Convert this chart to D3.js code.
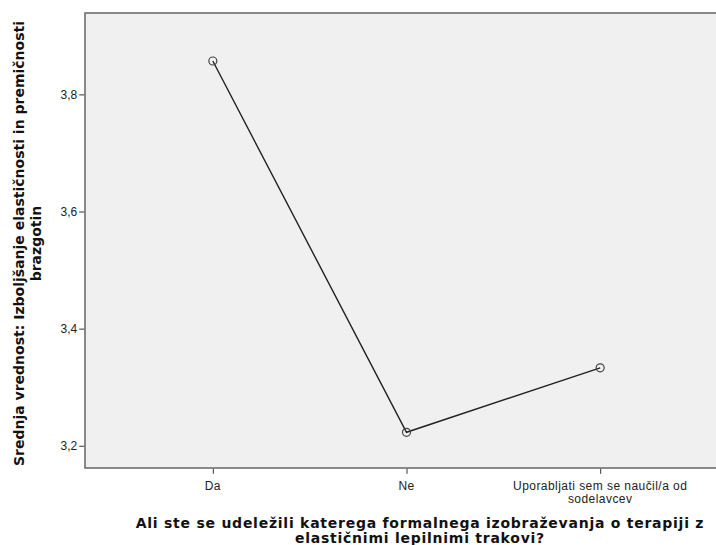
<!DOCTYPE html>
<html><head><meta charset="utf-8">
<script src="https://cdn.jsdelivr.net/npm/d3@7"></script>
<style>body{margin:0;background:#fff}svg{display:block}</style>
</head><body>
<script>
const categories = ["Da", "Ne", "Uporabljati sem se naučil/a od sodelavcev"];
const categoryLines = [["Da"], ["Ne"], ["Uporabljati sem se naučil/a od", "sodelavcev"]];
const values = [3.857, 3.223, 3.333];
const yTicks = [3.2, 3.4, 3.6, 3.8];
const yTitle = ["Srednja vrednost: Izboljšanje elastičnosti in premičnosti", "brazgotin"];
const xTitle = ["Ali ste se udeležili katerega formalnega izobraževanja o terapiji z", "elastičnimi lepilnimi trakovi?"];

const W = 716, H = 545;
const pL = 85, pT = 13, pR = 728, pB = 468;

const svg = d3.select("body").append("svg").attr("width", W).attr("height", H);

const x = d3.scalePoint().domain(categories).range([pL, pR]).padding(0.66);
const y = d3.scaleLinear().domain([3.162, 3.939]).range([pB, pT]);

svg.append("rect").attr("x", pL).attr("y", pT).attr("width", pR - pL).attr("height", pB - pT)
  .attr("fill", "#f0f0f0").attr("stroke", "#6e6e6e").attr("stroke-width", 1.6);

const yAxis = svg.append("g").attr("transform", `translate(${pL - 0.8},0)`)
  .call(d3.axisLeft(y).tickValues(yTicks).tickSize(5).tickSizeOuter(0).tickFormat(d => d3.format(".1f")(d).replace(".", ",")));
yAxis.select(".domain").remove();
yAxis.selectAll("line").attr("stroke", "#333");
yAxis.selectAll("text").attr("font-family", "Liberation Sans, Arial, sans-serif").attr("font-size", 12).attr("fill", "#222").attr("dx", "1");

const xAxis = svg.append("g").attr("transform", `translate(0,${pB + 0.8})`)
  .call(d3.axisBottom(x).tickSize(5).tickSizeOuter(0).tickFormat(""));
xAxis.select(".domain").remove();
xAxis.selectAll("line").attr("stroke", "#333");

categories.forEach((c, i) => {
  const t = svg.append("text").attr("x", x(c)).attr("y", 490).attr("text-anchor", "middle")
    .attr("font-family", "Liberation Sans, Arial, sans-serif").attr("font-size", 12).attr("fill", "#222")
    .attr("letter-spacing", 0.45);
  categoryLines[i].forEach((l, j) => t.append("tspan").attr("x", x(c)).attr("dy", j === 0 ? 0 : 12.5).text(l));
});

const line = d3.line().x((d, i) => x(categories[i])).y(d => y(d));
svg.append("path").datum(values).attr("d", line).attr("fill", "none").attr("stroke", "#222").attr("stroke-width", 1.4);

svg.selectAll("circle.pt").data(values).enter().append("circle").attr("class", "pt")
  .attr("cx", (d, i) => x(categories[i])).attr("cy", d => y(d)).attr("r", 4)
  .attr("fill", "none").attr("stroke", "#444").attr("stroke-width", 1.2);

const xt = svg.append("text").attr("text-anchor", "middle").attr("font-family", "DejaVu Sans, Verdana, sans-serif")
  .attr("font-weight", "bold").attr("font-size", 14).attr("fill", "#111").attr("letter-spacing", 0.75);
xTitle.forEach((l, j) => xt.append("tspan").attr("x", 420).attr("y", 527.5 + j * 15).text(l));

const yt = svg.append("text").attr("text-anchor", "middle").attr("font-family", "DejaVu Sans, Verdana, sans-serif")
  .attr("font-weight", "bold").attr("font-size", 14).attr("fill", "#111")
  .attr("transform", "translate(0,243.5) rotate(-90)");
yTitle.forEach((l, j) => yt.append("tspan").attr("x", 0).attr("y", 24 + j * 17).text(l));
</script>
</body></html>
